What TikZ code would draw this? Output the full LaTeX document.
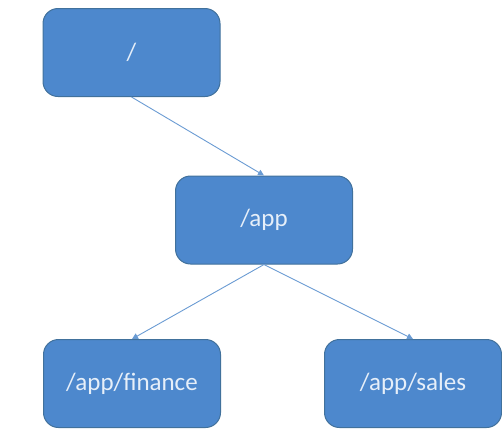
\documentclass[tikz,border=0pt]{standalone}
\usepackage{fontspec}
\setmainfont{Carlito}
\usetikzlibrary{arrows.meta}
\definecolor{boxfill}{HTML}{4D88CD}
\definecolor{boxedge}{HTML}{41719C}
\definecolor{boxtext}{HTML}{E6EFF9}
\definecolor{linkcol}{HTML}{6A9BD3}
\begin{document}
\begin{tikzpicture}[x=1pt,y=-1pt,
  dirbox/.style={draw=boxedge, line width=1pt, fill=boxfill, rounded corners=15pt,
    minimum width=177pt, minimum height=88pt, text=boxtext,
    font=\fontsize{25}{29}\selectfont, inner sep=0pt},
  link/.style={draw=linkcol, line width=0.9pt, -{Triangle[length=6pt,width=6pt]}}]
  \useasboundingbox (0,0) rectangle (502,437);
  \node[dirbox] (root) at (131.5,52.5) {/};
  \node[dirbox] (app) at (264,220) {/app};
  \node[dirbox] (fin) at (132,383.5) {/app/finance};
  \node[dirbox] (sales) at (413,383.5) {/app/sales};
  \draw[link] (root.south) -- (app.north);
  \draw[link] (app.south) -- (fin.north);
  \draw[link] (app.south) -- (sales.north);
\end{tikzpicture}
\end{document}
